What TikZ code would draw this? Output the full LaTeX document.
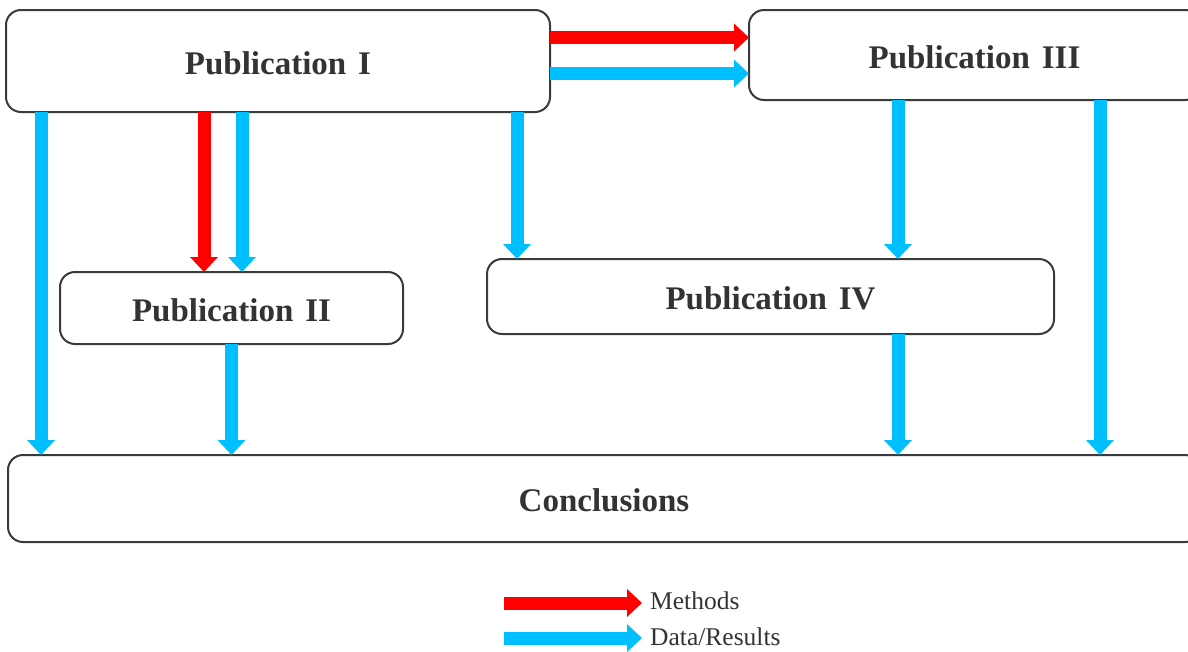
\documentclass[tikz,border=0pt]{standalone}
\usepackage{fontspec}
\setmainfont{Liberation Serif}
\usetikzlibrary{arrows.meta}
\definecolor{methred}{HTML}{FF0000}
\definecolor{datablue}{HTML}{00BFFF}
\definecolor{inkgrey}{HTML}{333333}
\definecolor{edgegrey}{HTML}{3A3A3A}
\tikzset{
  pub/.style={draw=edgegrey, line width=2pt, rounded corners=15pt, fill=white,
    inner sep=0pt, outer sep=0pt, text=inkgrey,
    text height=26.5pt, text depth=0pt,
    font=\fontsize{33}{36}\selectfont\bfseries},
  flow/.style={line width=13pt, -{Triangle[width=27pt,length=15pt]}},
  meth/.style={flow, draw=methred},
  data/.style={flow, draw=datablue},
  legtext/.style={anchor=west, inner sep=0pt, text=inkgrey,
    font=\fontsize{25.5}{28}\selectfont},
}
\newcommand{\pubname}[1]{Publication\hspace{0.36em}#1}
\begin{document}
\begin{tikzpicture}[x=1pt,y=-1pt]
\useasboundingbox (0,0) rectangle (1188,651);
\clip (0,0) rectangle (1188,651);

% publication boxes
\node[pub, minimum width=544pt, minimum height=102pt] (p1) at (278,61) {\pubname{I}};
\node[pub, minimum width=451pt, minimum height=90pt] (p3) at (974.5,55) {\pubname{III}};
\node[pub, minimum width=343pt, minimum height=72pt] (p2) at (231.5,308) {\pubname{II}};
\node[pub, minimum width=567pt, minimum height=75pt] (p4) at (770.5,296.5) {\pubname{IV}};
\node[pub, minimum width=1192pt, minimum height=87pt] (conc) at (604,498.5) {Conclusions};

% rows and columns of the flow arrows
\coordinate (yM) at (0,37.5);
\coordinate (yD) at (0,73.5);
\coordinate (xA) at (41,0);
\coordinate (xB) at (204,0);
\coordinate (xC) at (242,0);
\coordinate (xD) at (517,0);
\coordinate (xE) at (898,0);
\coordinate (xF) at (1100,0);

% I -> III
\draw[meth] (p1.east |- yM) -- (p3.west |- yM);
\draw[data] (p1.east |- yD) -- (p3.west |- yD);
% I -> II
\draw[meth] (p1.south -| xB) -- (p2.north -| xB);
\draw[data] (p1.south -| xC) -- (p2.north -| xC);
% I -> conclusions, I -> IV
\draw[data] (p1.south -| xA) -- (conc.north -| xA);
\draw[data] (p1.south -| xD) -- (p4.north -| xD);
% II -> conclusions
\draw[data] (p2.south) -- (conc.north -| p2.south);
% III -> IV, III -> conclusions, IV -> conclusions
\draw[data] (p3.south -| xE) -- (p4.north -| xE);
\draw[data] (p3.south -| xF) -- (conc.north -| xF);
\draw[data] (p4.south -| xE) -- (conc.north -| xE);

% legend
\coordinate (lm0) at (504,603);
\coordinate (ld0) at (504,638);
\node[legtext] (lmt) at (650,601) {Methods};
\node[legtext] (ldt) at (650,637) {Data/Results};
\draw[meth, shorten >=8pt] (lm0) -- (lm0 -| lmt.west);
\draw[data, shorten >=8pt] (ld0) -- (ld0 -| ldt.west);
\end{tikzpicture}
\end{document}
